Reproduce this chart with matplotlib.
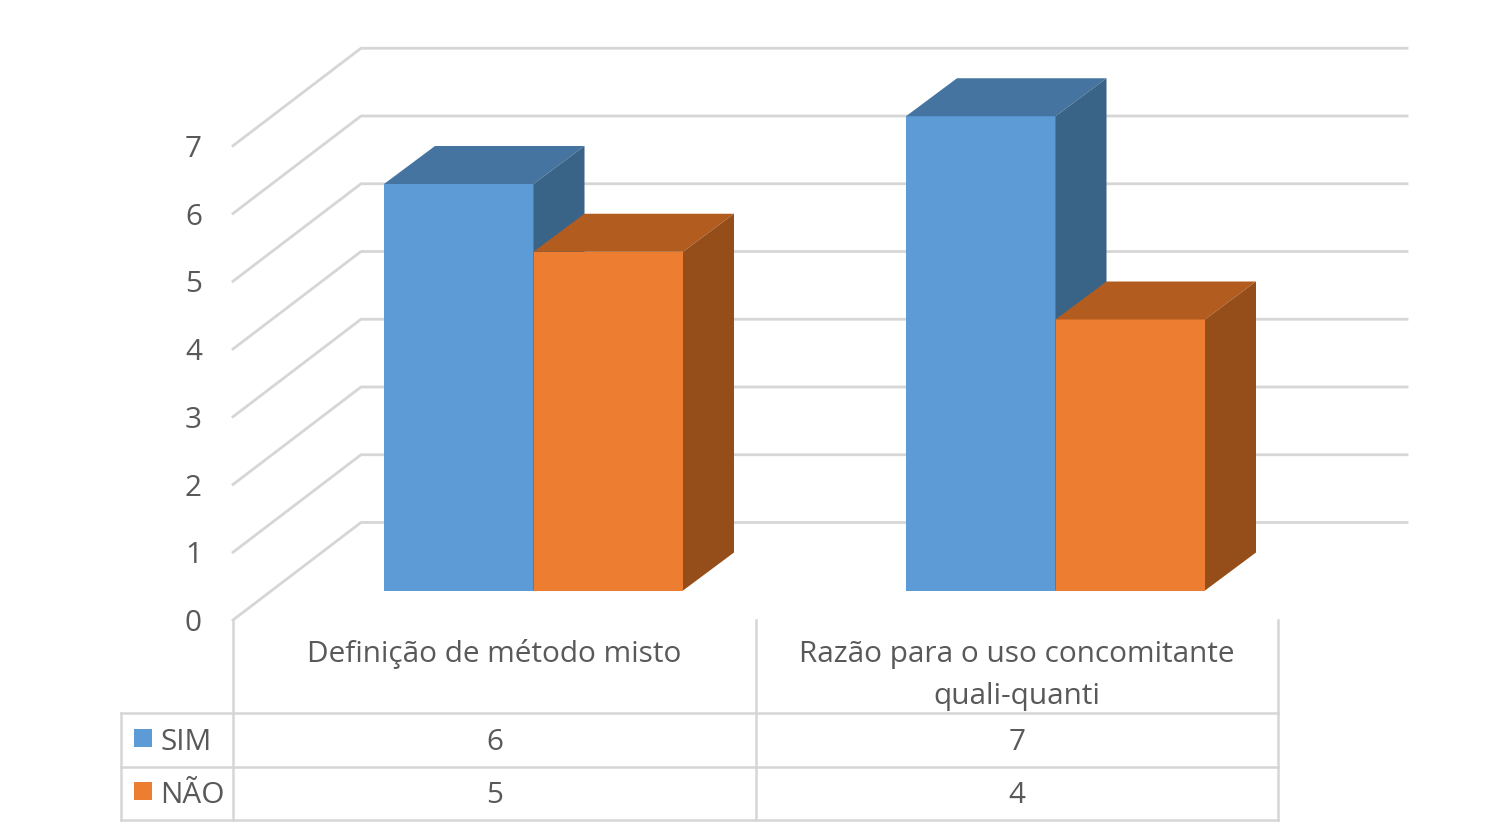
import matplotlib

matplotlib.use("Agg")
import matplotlib.pyplot as plt
from matplotlib.patches import Polygon

plt.rcParams["font.family"] = ["Open Sans", "DejaVu Sans"]

categories = ["Definição de método misto", "Razão para o uso concomitante\nquali-quanti"]
series_names = ["SIM", "NÃO"]
sim_values = [6, 7]
nao_values = [5, 4]
y_ticks = [0, 1, 2, 3, 4, 5, 6, 7]

# colours: front, top, side of each 3d bar
SIM_COLORS = ("#5c9bd6", "#44749f", "#3a6388")
NAO_COLORS = ("#ed7d31", "#b25d1f", "#954e1a")
GRID = "#d6d6d6"
TEXT = "#595959"
FONT_SIZE = 21.4

# the chart is a fake 3d projection, so work in reference pixels
UNIT = 67.75
BASE_FRONT = 590.5      # bar foot, front face
BASE_BACK = 522.5       # value 0 on the back wall
BASE_LEFT = 620.0       # value 0 on the left edge
DX, DY = 51, -38        # bar depth
WALL_X0, WALL_X1, WALL_X2 = 233, 361, 1407
GROUP_LEFT = [384, 906]
BAR_W = 149.5
TABLE_X = [233, 756, 1278]
TABLE_Y = [713, 767, 820]
TABLE_LEFT = 121
ROW_BASELINE = [750, 803]


def bar3d(ax, x, value, colors):
    top = BASE_FRONT - value * UNIT
    front, lid, side = colors
    ax.add_patch(Polygon([(x, BASE_FRONT), (x + BAR_W, BASE_FRONT), (x + BAR_W, top), (x, top)],
                         fc=front, ec="none", zorder=3))
    ax.add_patch(Polygon([(x, top), (x + BAR_W, top), (x + BAR_W + DX, top + DY), (x + DX, top + DY)],
                         fc=lid, ec="none", zorder=3))
    ax.add_patch(Polygon([(x + BAR_W, BASE_FRONT), (x + BAR_W + DX, BASE_FRONT + DY),
                          (x + BAR_W + DX, top + DY), (x + BAR_W, top)],
                         fc=side, ec="none", zorder=3))


fig = plt.figure(figsize=(15, 8.3), dpi=100)
ax = fig.add_axes([0, 0, 1, 1])
ax.set_xlim(0, 1500)
ax.set_ylim(830, 0)
ax.axis("off")

# walls
for v in y_ticks:
    y_back = BASE_BACK - v * UNIT
    y_left = BASE_LEFT - v * UNIT
    ax.plot([WALL_X0, WALL_X1, WALL_X2], [y_left, y_back, y_back], color=GRID, lw=2, zorder=1)
    ax.text(202, y_left + 11, str(v), ha="right", va="baseline", fontsize=FONT_SIZE, color=TEXT)

# bars, orange after blue so its lid sits over the blue side
for i in range(len(categories)):
    bar3d(ax, GROUP_LEFT[i], sim_values[i], SIM_COLORS)
    bar3d(ax, GROUP_LEFT[i] + BAR_W, nao_values[i], NAO_COLORS)

# data table
for x in TABLE_X:
    ax.plot([x, x], [BASE_LEFT, TABLE_Y[-1]], color=GRID, lw=1.8, zorder=1)
ax.plot([TABLE_LEFT, TABLE_LEFT], [TABLE_Y[0], TABLE_Y[-1]], color=GRID, lw=1.8, zorder=1)
for y in TABLE_Y:
    ax.plot([TABLE_LEFT, TABLE_X[-1]], [y, y], color=GRID, lw=1.8, zorder=1)

for i, name in enumerate(categories):
    cx = (TABLE_X[i] + TABLE_X[i + 1]) / 2
    for k, line in enumerate(name.split("\n")):
        ax.text(cx, 662 + k * 42, line, ha="center", va="baseline", fontsize=FONT_SIZE, color=TEXT)
    ax.text(cx, ROW_BASELINE[0], str(sim_values[i]), ha="center", va="baseline",
            fontsize=FONT_SIZE, color=TEXT)
    ax.text(cx, ROW_BASELINE[1], str(nao_values[i]), ha="center", va="baseline",
            fontsize=FONT_SIZE, color=TEXT)

for j, (name, colors) in enumerate(zip(series_names, (SIM_COLORS, NAO_COLORS))):
    yc = ROW_BASELINE[j] - 12
    ax.add_patch(Polygon([(134, yc - 9), (152, yc - 9), (152, yc + 9), (134, yc + 9)],
                         fc=colors[0], ec="none", zorder=3))
    ax.text(160, ROW_BASELINE[j], name, ha="left", va="baseline", fontsize=FONT_SIZE, color=TEXT)

fig.savefig("out.png", dpi=100, facecolor="white")
